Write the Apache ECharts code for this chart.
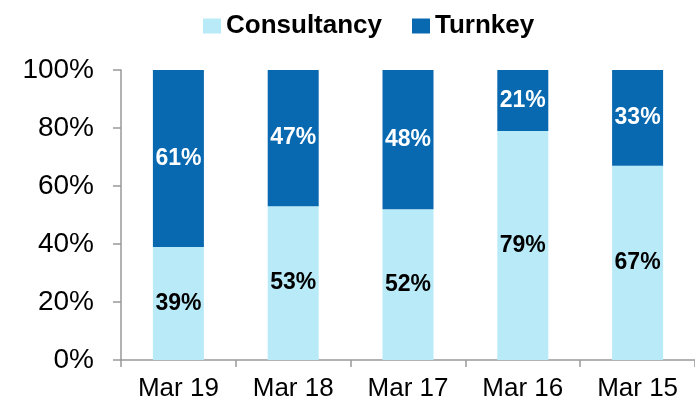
<!DOCTYPE html>
<html>
<head>
<meta charset="utf-8">
<script src="https://cdn.jsdelivr.net/npm/echarts@6/dist/echarts.min.js"></script>
<style>
  html, body { margin: 0; padding: 0; background: #fff; }
  #chart { width: 695px; height: 402px; }
</style>
</head>
<body>
<div id="chart"></div>
<script>
// 类目与数据
var categories = ['Mar 19', 'Mar 18', 'Mar 17', 'Mar 16', 'Mar 15'];
var consultancy = [39, 53, 52, 79, 67];
var turnkey = [61, 47, 48, 21, 33];

var chart = echarts.init(document.getElementById('chart'));

var option = {
    backgroundColor: '#fff',
    animation: false,
    textStyle: { fontFamily: 'Liberation Sans, Arial, sans-serif' },
    legend: {
        left: 198,
        top: 8,
        itemWidth: 18,
        itemHeight: 15,
        itemGap: 30,
        icon: 'rect',
        textStyle: { fontSize: 26, fontWeight: 'bold', color: '#000' },
        data: ['Consultancy', 'Turnkey']
    },
    grid: {
        left: 121,
        right: -6,
        top: 70,
        bottom: 42
    },
    xAxis: {
        type: 'category',
        data: categories,
        axisLine: { lineStyle: { color: '#999', width: 1.5 } },
        axisTick: { show: true, length: 7, lineStyle: { color: '#999', width: 1.5 } },
        axisLabel: { fontSize: 26, color: '#000', margin: 16 }
    },
    yAxis: {
        type: 'value',
        min: 0,
        max: 100,
        interval: 20,
        axisLine: { show: true, lineStyle: { color: '#999', width: 1.5 } },
        axisTick: { show: true, length: 8, lineStyle: { color: '#999', width: 1.5 } },
        axisLabel: { fontSize: 28, color: '#000', margin: 27, formatter: '{value}%' },
        splitLine: { show: false }
    },
    series: [
        {
            name: 'Consultancy',
            type: 'bar',
            stack: 'total',
            barWidth: 51,
            itemStyle: { color: '#B9EAF7' },
            label: {
                show: true,
                position: 'inside',
                formatter: '{c}%',
                color: '#000',
                fontSize: 23,
                fontWeight: 'bold'
            },
            data: consultancy
        },
        {
            name: 'Turnkey',
            type: 'bar',
            stack: 'total',
            barWidth: 51,
            itemStyle: { color: '#0868B0' },
            label: {
                show: true,
                position: 'inside',
                formatter: '{c}%',
                color: '#fff',
                fontSize: 23,
                fontWeight: 'bold'
            },
            data: turnkey
        }
    ]
};

chart.setOption(option);
</script>
</body>
</html>
